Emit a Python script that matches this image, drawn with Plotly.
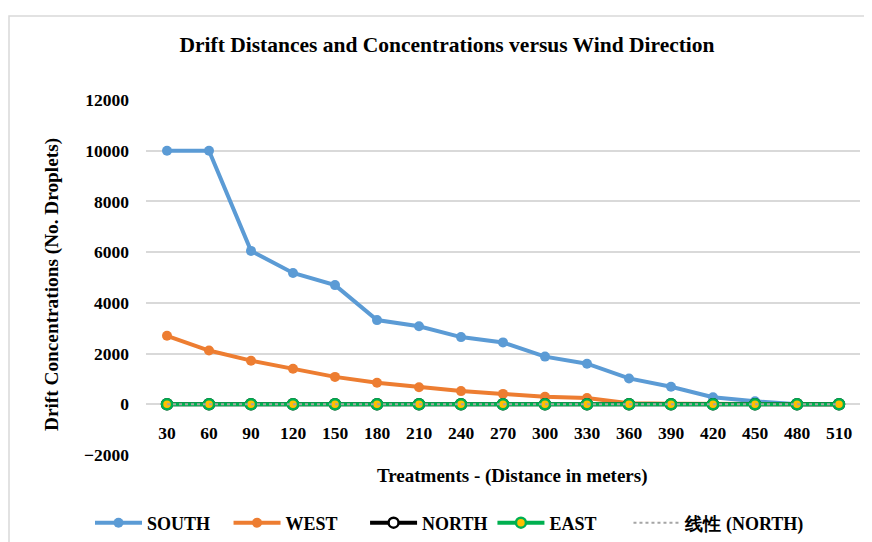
import plotly.graph_objects as go

# distances (m) on the category axis
distances = ["30", "60", "90", "120", "150", "180", "210", "240", "270",
             "300", "330", "360", "390", "420", "450", "480", "510"]

# drift concentrations (no. droplets)
south = [10000, 10000, 6050, 5180, 4700, 3320, 3080, 2650, 2440,
         1880, 1600, 1020, 690, 280, 120, 0, 0]
west = [2700, 2120, 1720, 1400, 1080, 850, 670, 520, 410,
        300, 250, 40, 20, 10, 0, 0, 0]
north = [0] * 17
east = [0] * 17
north_trend = [0] * 17

FONT = "Times New Roman, Liberation Serif, DejaVu Serif, serif"
PAD = "\u00a0"

# page body has an 8px margin, so work in screen px and shift
OFF = 8
FW, FH = 872 - OFF, 542 - OFF
L, R, T, B = 146 - OFF, 860 - OFF, 100 - OFF, 455 - OFF
W, H = R - L, B - T


def px_x(x):
    return (x - OFF - L) / W


def px_y(y):
    return (B - (y - OFF)) / H


fig = go.Figure()
fig.add_trace(go.Scatter(x=distances, y=south, name="SOUTH" + PAD * 3, mode="lines+markers",
                         line=dict(color="#5B9BD5", width=4),
                         marker=dict(size=10, color="#5B9BD5")))
fig.add_trace(go.Scatter(x=distances, y=west, name="WEST" + PAD * 5, mode="lines+markers",
                         line=dict(color="#ED7D31", width=4),
                         marker=dict(size=10, color="#ED7D31")))
fig.add_trace(go.Scatter(x=distances, y=north, name="NORTH", mode="lines+markers",
                         line=dict(color="#000000", width=4),
                         marker=dict(size=10, color="#FFFFFF",
                                     line=dict(color="#000000", width=2.5))))
fig.add_trace(go.Scatter(x=distances, y=east, name="EAST" + PAD * 6, mode="lines+markers",
                         line=dict(color="#00B050", width=4),
                         marker=dict(size=10, color="#FFC000",
                                     line=dict(color="#00B050", width=2.5))))
fig.add_trace(go.Scatter(x=distances, y=north_trend, name="线性 (NORTH)", mode="lines",
                         line=dict(color="#A5A5A5", width=2, dash="dot")))

fig.update_layout(
    width=FW, height=FH,
    margin=dict(l=L, r=FW - R, t=T, b=FH - B, autoexpand=False),
    paper_bgcolor="white", plot_bgcolor="white",
    font=dict(family=FONT, size=17, color="#000000", weight="bold"),
    title=dict(text="<b>Drift Distances and Concentrations versus Wind Direction</b>",
               x=(447 - OFF) / FW, xanchor="center", y=1 - (44 - OFF) / FH, yanchor="middle",
               font=dict(family=FONT, size=21.5, color="#000000")),
    showlegend=True,
    legend=dict(orientation="h", x=px_x(90), xanchor="left", y=px_y(523), yanchor="middle",
                font=dict(family=FONT, size=18, color="#000000", weight="bold"),
                itemwidth=47, traceorder="normal"),
    hovermode=False,
)

fig.update_xaxes(type="category", range=[-0.5, 16.5], showgrid=False, zeroline=False,
                 showline=False, automargin=False,
                 anchor="free", position=2000 / 14000, ticks="",
                 ticklabelstandoff=16,
                 tickfont=dict(family=FONT, size=17.5, color="#000000", weight="bold"))
fig.update_yaxes(range=[-2000, 12000], dtick=2000, tickformat="d", showgrid=True,
                 gridcolor="#D9D9D9", gridwidth=1.5, zeroline=False, showline=False,
                 automargin=False, ticks="", ticklabelstandoff=16,
                 tickfont=dict(family=FONT, size=17.5, color="#000000", weight="bold"))

fig.add_annotation(text="<b>Drift Concentrations (No. Droplets)</b>", textangle=-90,
                   xref="paper", yref="paper", x=px_x(52), y=px_y(285),
                   xanchor="center", yanchor="middle",
                   showarrow=False, font=dict(family=FONT, size=19.3, color="#000000"))
fig.add_annotation(text="<b>Treatments - (Distance in meters)</b>",
                   xref="paper", yref="paper", x=px_x(513), y=px_y(476),
                   xanchor="center", yanchor="middle",
                   showarrow=False, font=dict(family=FONT, size=19, color="#000000"))

# chart area border
fig.add_shape(type="rect", xref="paper", yref="paper",
              x0=px_x(9), x1=px_x(880), y0=px_y(550), y1=px_y(16),
              line=dict(color="#D9D9D9", width=1.5), fillcolor="rgba(0,0,0,0)")

fig.write_html("out.html")
